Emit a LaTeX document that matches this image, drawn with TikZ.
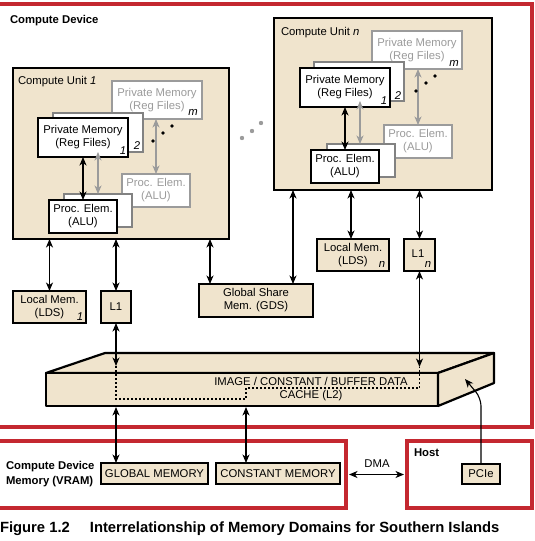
\documentclass[tikz,border=0pt]{standalone}
\usepackage{fontspec}
\setmainfont{Liberation Sans}
\usetikzlibrary{arrows.meta}
\definecolor{beige}{RGB}{240,228,205}
\definecolor{redline}{RGB}{196,40,48}
\definecolor{lgray}{RGB}{155,155,155}
\definecolor{mgray}{RGB}{130,130,130}
\newcommand\myfs{\fontsize{11.3}{13}\selectfont}
\begin{document}
\begin{tikzpicture}[x=1pt,y=-1pt,
  every node/.style={font=\myfs, inner sep=0pt, outer sep=0pt},
  darr/.style={{Stealth[length=8.5pt,width=7pt,inset=2.5pt]}-{Stealth[length=8.5pt,width=7pt,inset=2.5pt]}, line width=1.1pt},
  garr/.style={darr, draw=lgray, fill=lgray},
  redbox/.style={draw=redline, line width=4pt, anchor=north west},
  cubox/.style={draw=black, line width=2.5pt, fill=beige, anchor=north west},
  blk/.style={draw=black, line width=2.2pt, fill=white, align=center, anchor=north west},
  mid/.style={draw=mgray, line width=2pt, fill=white, align=center, anchor=north west},
  gry/.style={draw=lgray, line width=2pt, fill=white, text=lgray, align=center, anchor=north west},
  tan/.style={draw=black, line width=2.2pt, fill=beige, align=center, anchor=north west},
  pmsz/.style={minimum width=90pt, minimum height=38pt},
  pesz/.style={minimum width=68pt, minimum height=33pt},
  num/.style={font=\myfs\itshape},
  dotline/.style={line width=1.6pt, dash pattern=on 1.8pt off 2.2pt}
]
\useasboundingbox (0,0) rectangle (535,541);

% red domain boxes
\node[redbox, minimum width=541.5pt, minimum height=423.5pt] (dev) at (-10,3.5) {};
\node[redbox, minimum width=356pt, minimum height=67pt] (cdm) at (-10,441) {};
\node[redbox, minimum width=124.5pt, minimum height=67pt] (host) at (407,441) {};

\node[anchor=west, font=\myfs\bfseries] (devlab) at (10,21) {Compute Device};

% ---------- Compute Unit 1 ----------
\node[cubox, minimum width=216pt, minimum height=171pt] (cu1) at (13,68) {};
\node[anchor=west] (cu1lab) at (18,82) {Compute Unit \textit{1}};
\node[gry, pmsz] (pmm1) at (112,81) {Private Memory\\(Reg Files)};
\node[gry, pesz] (pem1) at (122,174) {Proc. Elem.\\(ALU)};
\node[mid, pmsz, minimum height=39pt] (pm21) at (53,113) {};
\node[mid, pesz] (pe21) at (64,194) {};
\node[blk, pmsz, minimum height=39pt] (pm11) at (38,118) {Private Memory\\(Reg Files)};
\node[blk, pesz] (pe11) at (49,200) {Proc. Elem.\\(ALU)};
\node[num] (n1a) at (123,151) {1};
\node[num] (n2a) at (137,146) {2};
\node[num] (nma) at (193,112) {m};
\draw[garr] (pmm1.south -| 156,0) -- (pem1.north -| 156,0);
\draw[garr] (pm21.south -| 98,0) -- (pe21.north -| 98,0);
\draw[darr] (pm11.south -| 83,0) -- (pe11.north -| 83,0);
\fill (172,126) circle (1.8) (163,133) circle (1.8) (153,141) circle (1.8);

% dots between units
\fill[lgray] (242,138) circle (2.2) (252,131) circle (2.2) (261,123) circle (2.2);

% ---------- Compute Unit n ----------
\node[cubox, minimum width=218pt, minimum height=172pt] (cun) at (274,18) {};
\node[anchor=west] (cunlab) at (281,33) {Compute Unit \textit{n}};
\node[gry, pmsz] (pmmn) at (372,31) {Private Memory\\(Reg Files)};
\node[gry, pesz] (pemn) at (384,125) {Proc. Elem.\\(ALU)};
\node[mid, pmsz, minimum height=39pt] (pm2n) at (314,62) {};
\node[mid, pesz] (pe2n) at (327,144) {};
\node[blk, pmsz, minimum height=39pt] (pm1n) at (300,68) {Private Memory\\(Reg Files)};
\node[blk, pesz] (pe1n) at (311,150) {Proc. Elem.\\(ALU)};
\node[num] (n1b) at (384,101) {1};
\node[num] (n2b) at (398,96) {2};
\node[num] (nmb) at (454,63) {m};
\draw[garr] (pmmn.south -| 418,0) -- (pemn.north -| 418,0);
\draw[garr] (pm2n.south -| 360,0) -- (pe2n.north -| 360,0);
\draw[darr] (pm1n.south -| 345,0) -- (pe1n.north -| 345,0);
\fill (435,76) circle (1.8) (426,83) circle (1.8) (416,91) circle (1.8);

% ---------- local memories ----------
\node[tan, minimum width=73pt, minimum height=32pt] (lm1) at (13,291) {Local Mem.\\(LDS)};
\node[num] (lm1n) at (80,317) {1};
\node[tan, minimum width=30pt, minimum height=32pt] (l1a) at (101,291) {L1};
\node[tan, minimum width=114pt, minimum height=33pt] (gds) at (199,284) {Global Share\\Mem. (GDS)};
\node[tan, minimum width=72pt, minimum height=32pt] (lmn) at (317,239) {Local Mem.\\(LDS)};
\node[num] (lmnn) at (382,264) {n};
\node[tan, minimum width=31pt, minimum height=32pt] (l1n) at (404,239) {};
\node (l1ntxt) at (418,254) {L1};
\node[num] (l1nn) at (428,264) {n};

\draw[darr] (cu1.south -| lm1.north) -- (lm1.north);
\draw[darr] (cu1.south -| l1a.north) -- (l1a.north);
\draw[darr] (cu1.south -| 210,0) -- (gds.north -| 210,0);
\draw[darr] (cun.south -| 293,0) -- (gds.north -| 293,0);
\draw[darr] (cun.south -| 351,0) -- (lmn.north -| 351,0);
\draw[darr] (cun.south -| l1n.north) -- (l1n.north);

% ---------- L2 slab ----------
\begin{scope}[draw=black, line width=2.2pt, line join=round, fill=beige]
\filldraw (46,373) -- (105,353) -- (494,353) -- (438,373) -- cycle;
\filldraw (46,373) rectangle (438,406);
\filldraw (438,373) -- (494,353) -- (494,383) -- (438,406) -- cycle;
\end{scope}
\node[align=center] (l2txt) at (311,389) {IMAGE / CONSTANT / BUFFER DATA\\CACHE (L2)};
\coordinate (l2in1) at (116,366);
\coordinate (l2in2) at (419.5,367);
\coordinate (l2b1) at (116,407);
\coordinate (l2b2) at (246,407);
\coordinate (pcitip) at (465,379);
\draw[dotline] (l2in1) -- (116,399) -- (246,399) -- (246,388) -- (419.5,388) -- (l2in2);
\draw[darr] (l1a.south) -- (l2in1);
\draw[darr] (l1n.south) -- (l2in2);

% ---------- device memory ----------
\node[anchor=west, align=left, font=\bfseries\fontsize{11.3}{14.5}\selectfont] (cdmlab) at (6,474) {Compute Device\\Memory (VRAM)};
\node[tan, minimum width=107pt, minimum height=21pt] (gm) at (101,463) {GLOBAL MEMORY};
\node[tan, minimum width=124pt, minimum height=21pt] (cm) at (216,463) {CONSTANT MEMORY};
\draw[darr] (l2b1) -- (l2b1 |- gm.north);
\draw[darr] (l2b2) -- (l2b2 |- cm.north);

% ---------- host ----------
\node[anchor=west, font=\myfs\bfseries] (hostlab) at (414,453) {Host};
\node[tan, minimum width=38pt, minimum height=20pt] (pcie) at (462,464) {PCIe};
\draw[line width=1.1pt, -{Stealth[length=8.5pt,width=7pt,inset=2.5pt]}, rounded corners=8pt] (pcie.north) -- (pcie.north |- 0,398) -- (pcitip);
\node[anchor=south] (dma) at (377,467) {DMA};
\draw[darr, shorten <=3pt, shorten >=3pt] (cdm.east) -- (host.west);

% ---------- caption ----------
\node[anchor=base west, font=\bfseries\fontsize{14.8}{16}\selectfont] (cap) at (0,532) {Figure 1.2\hspace{20pt}Interrelationship of Memory Domains for Southern Islands};
\end{tikzpicture}
\end{document}
